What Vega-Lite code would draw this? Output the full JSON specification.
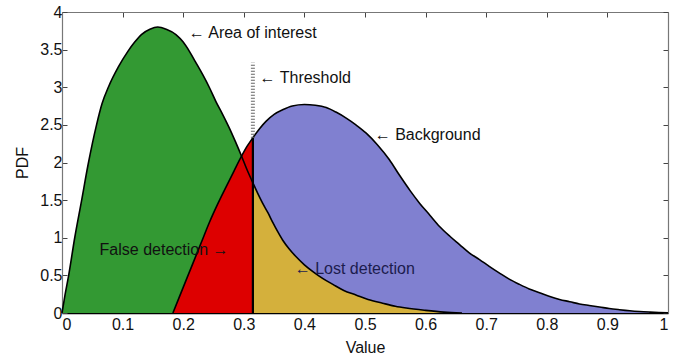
{
  "$schema": "https://vega.github.io/schema/vega-lite/v6.json",
  "width": 606,
  "height": 301,
  "autosize": "none",
  "padding": {"left": 62, "top": 12, "right": 12, "bottom": 43},
  "background": "white",
  "config": {
    "view": {"stroke": null},
    "font": "Liberation Sans",
    "axis": {
      "grid": false,
      "zindex": 1,
      "domainColor": "#777",
      "domainWidth": 1.2,
      "tickColor": "#444",
      "tickSize": -5,
      "tickWidth": 1,
      "labelFont": "Liberation Sans",
      "labelFontSize": 16,
      "labelColor": "#111",
      "titleFont": "Liberation Sans",
      "titleFontSize": 16,
      "titleFontWeight": "normal",
      "titleColor": "#111"
    }
  },
  "datasets": {
    "green": [
      {"x": 0, "y": 0}, {"x": 0.005, "y": 0.24}, {"x": 0.011, "y": 0.5}, {"x": 0.021, "y": 1.0},
      {"x": 0.032, "y": 1.48}, {"x": 0.043, "y": 1.97}, {"x": 0.057, "y": 2.5}, {"x": 0.066, "y": 2.78},
      {"x": 0.077, "y": 3.01}, {"x": 0.093, "y": 3.27}, {"x": 0.109, "y": 3.48}, {"x": 0.12, "y": 3.6},
      {"x": 0.131, "y": 3.7}, {"x": 0.145, "y": 3.77}, {"x": 0.158, "y": 3.8}, {"x": 0.172, "y": 3.77},
      {"x": 0.188, "y": 3.7}, {"x": 0.2, "y": 3.6}, {"x": 0.21, "y": 3.48}, {"x": 0.22, "y": 3.34},
      {"x": 0.232, "y": 3.17}, {"x": 0.243, "y": 3.0}, {"x": 0.254, "y": 2.81}, {"x": 0.265, "y": 2.64},
      {"x": 0.276, "y": 2.46}, {"x": 0.286, "y": 2.28}, {"x": 0.296, "y": 2.09}, {"x": 0.305, "y": 1.91},
      {"x": 0.315, "y": 1.73}, {"x": 0.323, "y": 1.59}, {"x": 0.331, "y": 1.46}, {"x": 0.34, "y": 1.33},
      {"x": 0.348, "y": 1.2}, {"x": 0.356, "y": 1.08}, {"x": 0.364, "y": 0.97}, {"x": 0.375, "y": 0.85},
      {"x": 0.386, "y": 0.75}, {"x": 0.4, "y": 0.64}, {"x": 0.414, "y": 0.55}, {"x": 0.43, "y": 0.46},
      {"x": 0.447, "y": 0.38}, {"x": 0.465, "y": 0.3}, {"x": 0.485, "y": 0.24}, {"x": 0.505, "y": 0.18},
      {"x": 0.529, "y": 0.13}, {"x": 0.55, "y": 0.09}, {"x": 0.568, "y": 0.066}, {"x": 0.6, "y": 0.035},
      {"x": 0.63, "y": 0.012}, {"x": 0.66, "y": 0}
    ],
    "blue": [
      {"x": 0.183, "y": 0}, {"x": 0.2, "y": 0.34}, {"x": 0.216, "y": 0.66}, {"x": 0.23, "y": 0.94},
      {"x": 0.243, "y": 1.2}, {"x": 0.257, "y": 1.45}, {"x": 0.271, "y": 1.68}, {"x": 0.284, "y": 1.89},
      {"x": 0.296, "y": 2.08}, {"x": 0.305, "y": 2.21}, {"x": 0.315, "y": 2.33}, {"x": 0.326, "y": 2.45},
      {"x": 0.337, "y": 2.55}, {"x": 0.35, "y": 2.64}, {"x": 0.364, "y": 2.7}, {"x": 0.38, "y": 2.75},
      {"x": 0.4, "y": 2.77}, {"x": 0.418, "y": 2.76}, {"x": 0.436, "y": 2.73}, {"x": 0.452, "y": 2.67},
      {"x": 0.469, "y": 2.59}, {"x": 0.485, "y": 2.5}, {"x": 0.502, "y": 2.39}, {"x": 0.52, "y": 2.24},
      {"x": 0.54, "y": 2.04}, {"x": 0.557, "y": 1.83}, {"x": 0.575, "y": 1.62}, {"x": 0.59, "y": 1.46},
      {"x": 0.607, "y": 1.3}, {"x": 0.623, "y": 1.15}, {"x": 0.64, "y": 1.02}, {"x": 0.656, "y": 0.91},
      {"x": 0.672, "y": 0.8}, {"x": 0.689, "y": 0.71}, {"x": 0.705, "y": 0.62}, {"x": 0.722, "y": 0.53},
      {"x": 0.738, "y": 0.45}, {"x": 0.755, "y": 0.38}, {"x": 0.771, "y": 0.32}, {"x": 0.788, "y": 0.27},
      {"x": 0.805, "y": 0.22}, {"x": 0.821, "y": 0.18}, {"x": 0.838, "y": 0.15}, {"x": 0.854, "y": 0.12},
      {"x": 0.87, "y": 0.1}, {"x": 0.887, "y": 0.08}, {"x": 0.903, "y": 0.06}, {"x": 0.92, "y": 0.044},
      {"x": 0.937, "y": 0.03}, {"x": 0.953, "y": 0.02}, {"x": 0.97, "y": 0.012}, {"x": 0.985, "y": 0.006},
      {"x": 1.0, "y": 0.002}
    ],
    "labels": [
      {"x": 0.209, "y": 3.72, "text": "← Area of interest", "group": "dark"},
      {"x": 0.326, "y": 3.12, "text": "← Threshold", "group": "dark"},
      {"x": 0.516, "y": 2.37, "text": "← Background", "group": "dark"},
      {"x": 0.062, "y": 0.84, "text": "False detection →", "group": "dark"},
      {"x": 0.384, "y": 0.58, "text": "← Lost detection", "group": "navy"}
    ]
  },
  "layer": [
    {
      "data": {"name": "green"},
      "transform": [{"filter": "datum.x <= 0.315"}],
      "mark": {"type": "area", "color": "#339933", "interpolate": "monotone"},
      "encoding": {
        "x": {"field": "x", "type": "quantitative", "scale": {"domain": [0, 1], "nice": false},
          "axis": {"orient": "bottom", "values": [0, 0.1, 0.2, 0.3, 0.4, 0.5, 0.6, 0.7, 0.8, 0.9, 1], "format": "~g", "title": "Value", "domainColor": "#000", "domainWidth": 1.5, "labelPadding": 8, "titlePadding": 7}},
        "y": {"field": "y", "type": "quantitative", "scale": {"domain": [0, 4], "nice": false},
          "axis": {"orient": "left", "values": [0, 0.5, 1, 1.5, 2, 2.5, 3, 3.5, 4], "format": "~g", "title": "PDF", "labelPadding": 5, "titlePadding": 9}}
      }
    },
    {
      "data": {"name": "blue"},
      "transform": [{"filter": "datum.x <= 0.315"}],
      "mark": {"type": "area", "color": "#dd0000", "interpolate": "monotone"},
      "encoding": {
        "x": {"field": "x", "type": "quantitative", "axis": null},
        "y": {"field": "y", "type": "quantitative", "axis": null}
      }
    },
    {
      "data": {"name": "blue"},
      "transform": [{"filter": "datum.x >= 0.315"}],
      "mark": {"type": "area", "color": "#8080d0", "interpolate": "monotone"},
      "encoding": {
        "x": {"field": "x", "type": "quantitative",
          "axis": {"orient": "top", "values": [0, 0.1, 0.2, 0.3, 0.4, 0.5, 0.6, 0.7, 0.8, 0.9, 1], "labels": false, "title": null}},
        "y": {"field": "y", "type": "quantitative",
          "axis": {"orient": "right", "values": [0, 0.5, 1, 1.5, 2, 2.5, 3, 3.5, 4], "labels": false, "title": null}}
      }
    },
    {
      "data": {"name": "green"},
      "transform": [{"filter": "datum.x >= 0.315"}],
      "mark": {"type": "area", "color": "#d4b03c", "interpolate": "monotone"},
      "encoding": {
        "x": {"field": "x", "type": "quantitative", "axis": null},
        "y": {"field": "y", "type": "quantitative", "axis": null}
      }
    },
    {
      "data": {"name": "green"},
      "mark": {"type": "line", "color": "#000", "strokeWidth": 1.6, "interpolate": "monotone"},
      "encoding": {
        "x": {"field": "x", "type": "quantitative", "axis": null},
        "y": {"field": "y", "type": "quantitative", "axis": null}
      }
    },
    {
      "data": {"name": "blue"},
      "mark": {"type": "line", "color": "#000", "strokeWidth": 1.6, "interpolate": "monotone"},
      "encoding": {
        "x": {"field": "x", "type": "quantitative", "axis": null},
        "y": {"field": "y", "type": "quantitative", "axis": null}
      }
    },
    {
      "data": {"values": [{"x": 0.315, "y": 0, "y2": 2.33}]},
      "mark": {"type": "rule", "color": "#000", "strokeWidth": 2.2},
      "encoding": {
        "x": {"field": "x", "type": "quantitative", "axis": null},
        "y": {"field": "y", "type": "quantitative", "axis": null},
        "y2": {"field": "y2"}
      }
    },
    {
      "data": {"values": [{"x": 0.315, "y": 2.33, "y2": 3.33}]},
      "mark": {"type": "rule", "color": "#666", "strokeWidth": 4, "strokeDash": [1, 2]},
      "encoding": {
        "x": {"field": "x", "type": "quantitative", "axis": null},
        "y": {"field": "y", "type": "quantitative", "axis": null},
        "y2": {"field": "y2"}
      }
    },
    {
      "data": {"name": "labels"},
      "transform": [{"filter": "datum.group == 'dark'"}],
      "mark": {"type": "text", "align": "left", "baseline": "middle", "fontSize": 16, "color": "#111", "font": "Liberation Sans"},
      "encoding": {
        "x": {"field": "x", "type": "quantitative", "axis": null},
        "y": {"field": "y", "type": "quantitative", "axis": null},
        "text": {"field": "text"}
      }
    },
    {
      "data": {"name": "labels"},
      "transform": [{"filter": "datum.group == 'navy'"}],
      "mark": {"type": "text", "align": "left", "baseline": "middle", "fontSize": 16, "color": "#1c1c4e", "font": "Liberation Sans"},
      "encoding": {
        "x": {"field": "x", "type": "quantitative", "axis": null},
        "y": {"field": "y", "type": "quantitative", "axis": null},
        "text": {"field": "text"}
      }
    }
  ],
  "resolve": {"axis": {"x": "independent", "y": "independent"}}
}
